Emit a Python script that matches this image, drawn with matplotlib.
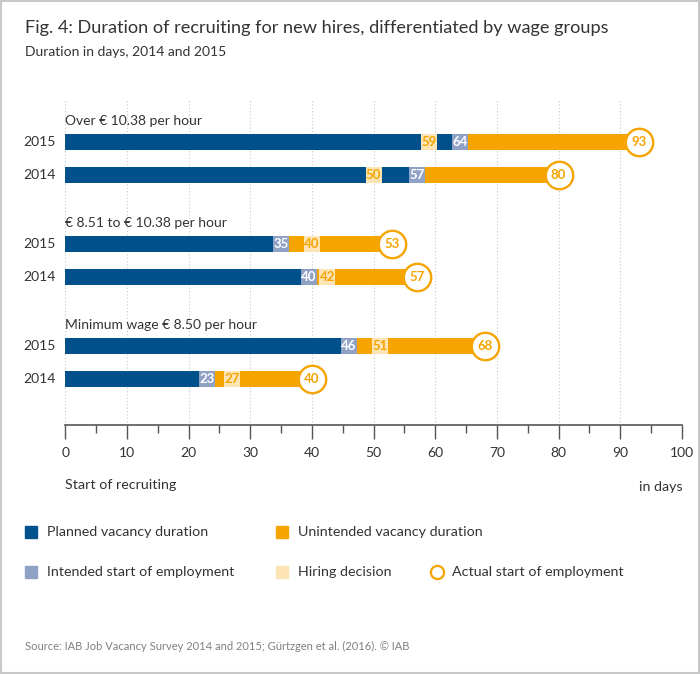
import matplotlib
matplotlib.use("Agg")
import matplotlib.pyplot as plt
from matplotlib.patches import Rectangle
from matplotlib.ticker import MultipleLocator

plt.rcParams['font.family'] = ['Lato', 'DejaVu Sans']

# data (days since start of recruiting)
groups = ["Over € 10.38 per hour", "€ 8.51 to € 10.38 per hour",
          "Minimum wage € 8.50 per hour"]
years = ["2015", "2014"]
intended = [[64, 57], [35, 40], [46, 23]]   # intended start of employment
hiring = [[59, 50], [40, 42], [51, 27]]     # hiring decision
actual = [[93, 80], [53, 57], [68, 40]]     # actual start of employment

DARK = "#00508c"
ORANGE = "#f5a400"
LIGHTBLUE = "#8fa2c6"
CREAM = "#fde4b4"
TEXT = "#333333"

W, H = 700, 674
fig = plt.figure(figsize=(W / 100, H / 100), dpi=100)

# background axes in pixel units for frame, titles and legend
bg = fig.add_axes([0, 0, 1, 1])
bg.set_xlim(0, W)
bg.set_ylim(H, 0)
bg.axis("off")
bg.add_patch(Rectangle((0.5, 0.5), W - 1.5, H - 1.5, fill=False,
                       ec="#c8c8c8", lw=1.5))
bg.text(25, 28, "Fig. 4: Duration of recruiting for new hires, differentiated by wage groups",
        fontsize=13.1, color=TEXT, va="center")
bg.text(25, 52, "Duration in days, 2014 and 2015", fontsize=10, color=TEXT, va="center")

# main chart
x0, x1, y_top, y_axis = 65.3, 682, 100, 425
ax = fig.add_axes([x0 / W, 1 - y_axis / H, (x1 - x0) / W, (y_axis - y_top) / H])
row = 33.0
gap = 102 / row
ax.set_xlim(0, 100)
ax.set_ylim((y_axis - 142) / row, (y_top - 142) / row)

bar_h = 16 / row
mk_w = 2.6
lbl = dict(fontsize=9.5, fontweight="bold", ha="center", va="center", zorder=5)
for g, name in enumerate(groups):
    base = g * gap
    ax.text(0, base - 0.64, name, fontsize=10, color=TEXT, va="center", ha="left")
    for k, yr in enumerate(years):
        y = base + k
        i, h, a = intended[g][k], hiring[g][k], actual[g][k]
        # keep the two small markers from overlapping
        pi, ph = i, h
        d = abs(h - i)
        if d < mk_w + 0.4:
            push = (mk_w + 0.4 - d) / 2
            if h > i:
                pi, ph = i - push, h + push
            else:
                pi, ph = i + push, h - push
        ax.barh(y, i, height=bar_h, color=DARK, zorder=2)
        ax.barh(y, a - i, left=i, height=bar_h, color=ORANGE, zorder=2)
        ax.barh(y, mk_w, left=pi - mk_w / 2, height=bar_h, color=LIGHTBLUE, zorder=3)
        ax.barh(y, mk_w, left=ph - mk_w / 2, height=bar_h, color=CREAM, zorder=4)
        ax.text(pi, y, str(i), color="white", **lbl)
        ax.text(ph, y, str(h), color=ORANGE, **lbl)
        ax.scatter(a, y, s=390, facecolor="white", edgecolor=ORANGE,
                   linewidth=1.7, zorder=6, clip_on=False)
        ax.text(a, y, str(a), color=ORANGE, fontsize=9.5, fontweight="bold",
                ha="center", va="center", zorder=7)
        ax.text(-1.5, y, yr, fontsize=10, color=TEXT, ha="right", va="center")

for s in ["top", "right", "left"]:
    ax.spines[s].set_visible(False)
ax.spines["bottom"].set_color("#555555")
ax.spines["bottom"].set_linewidth(1.2)
ax.xaxis.set_major_locator(MultipleLocator(10))
ax.xaxis.set_minor_locator(MultipleLocator(5))
ax.tick_params(axis="x", which="major", length=10, width=1, color="#555555",
               labelsize=10, labelcolor=TEXT, pad=6)
ax.tick_params(axis="x", which="minor", length=6, width=1, color="#555555")
ax.set_yticks([])
ax.grid(axis="x", which="major", color="#c8c8c8", linestyle=(0, (1, 2)), lw=0.8, zorder=0)
ax.patch.set_alpha(0)

bg.text(65, 485, "Start of recruiting", fontsize=10.3, color=TEXT, va="center")
bg.text(683, 487, "in days", fontsize=10.3, color=TEXT, va="center", ha="right")

# legend
legend_items = [
    ("Planned vacancy duration", DARK, "sq", 25, 532),
    ("Unintended vacancy duration", ORANGE, "sq", 276, 532),
    ("Intended start of employment", LIGHTBLUE, "sq", 25, 572),
    ("Hiring decision", CREAM, "sq", 276, 572),
    ("Actual start of employment", ORANGE, "circ", 437, 572),
]
for label, col, kind, lx, ly in legend_items:
    if kind == "sq":
        bg.add_patch(Rectangle((lx, ly - 6), 12, 12, color=col))
        tx = lx + 22
    else:
        bg.scatter(lx, ly, s=90, facecolor="white", edgecolor=col, linewidth=1.6)
        tx = lx + 15
    bg.text(tx, ly, label, fontsize=10.3, color=TEXT, va="center")

bg.text(25, 646, "Source: IAB Job Vacancy Survey 2014 and 2015; Gürtzgen et al. (2016). © IAB",
        fontsize=8, color="#808080", va="center")

fig.savefig("out.png", dpi=100)
